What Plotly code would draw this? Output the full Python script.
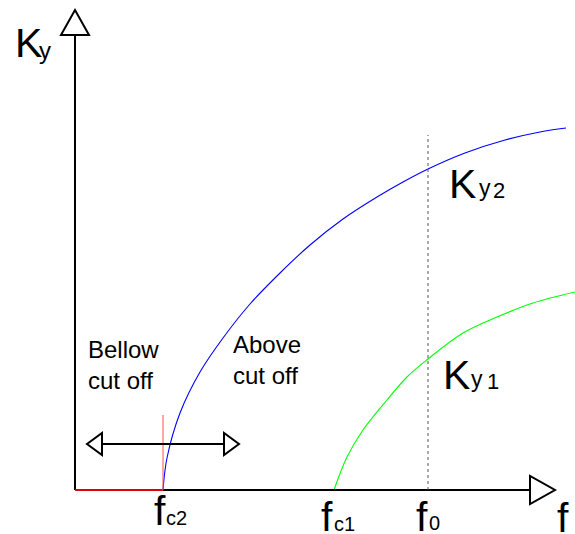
import plotly.graph_objects as go

# ---------------- data (f along x, Ky along y; units = arbitrary) ----------------
fc2 = 88      # cut-off frequency of mode 2
fc1 = 259     # cut-off frequency of mode 1
f0 = 353      # working frequency

ky2_f = [88, 92, 105, 125, 148, 175, 205, 235, 268, 302, 328, 353, 390, 430, 465, 491]
ky2_v = [0, 32, 77, 118, 152, 186, 217, 245, 271, 293, 308, 321, 337, 350, 358, 362]

ky1_f = [259, 272, 288, 312, 332, 353, 388, 422, 458, 500]
ky1_v = [0, 33, 60, 90, 113, 131, 157, 173, 187, 198]

W, H = 575, 534
X0, Y0 = 75, 490  # pixel location of the origin


def px(x):
    return x - X0


def py(y):
    return Y0 - y


fig = go.Figure()

fig.add_trace(go.Scatter(x=ky2_f, y=ky2_v, mode="lines",
                         line=dict(color="#0000ff", width=1.1, shape="spline", smoothing=1),
                         hoverinfo="skip", showlegend=False))
fig.add_trace(go.Scatter(x=ky1_f, y=ky1_v, mode="lines",
                         line=dict(color="#00ff00", width=1.1, shape="spline", smoothing=1),
                         hoverinfo="skip", showlegend=False))

shapes = []
blk = dict(color="black", width=2)
# y axis + arrow head
shapes.append(dict(type="line", x0=0, x1=0, y0=0, y1=py(35), line=blk))
shapes.append(dict(type="path", path=f"M -14 {py(35)} L 14 {py(35)} L 0 {py(10)} Z",
                   line=blk, fillcolor="white"))
# x axis + arrow head
shapes.append(dict(type="line", x0=0, x1=px(530), y0=0, y1=0, line=blk))
shapes.append(dict(type="path", path=f"M {px(530)} 14 L {px(530)} -14 L {px(555)} 0 Z",
                   line=blk, fillcolor="white"))
# red segment along axis and red vertical at fc2
shapes.append(dict(type="line", x0=0, x1=fc2, y0=0, y1=0, line=dict(color="#e00000", width=2)))
shapes.append(dict(type="line", x0=fc2, x1=fc2, y0=0, y1=py(415), line=dict(color="#ff5050", width=1)))
# dotted line at f0
shapes.append(dict(type="line", x0=f0, x1=f0, y0=0, y1=py(135), line=dict(color="#555555", width=1, dash="dot")))
# double arrow
ya = py(444)
shapes.append(dict(type="line", x0=px(102), x1=px(224), y0=ya, y1=ya, line=blk))
shapes.append(dict(type="path", path=f"M {px(102)} {ya+11} L {px(102)} {ya-11} L {px(87)} {ya} Z",
                   line=blk, fillcolor="white"))
shapes.append(dict(type="path", path=f"M {px(224)} {ya+11} L {px(224)} {ya-11} L {px(239)} {ya} Z",
                   line=blk, fillcolor="white"))

FONT = "Liberation Sans, Arial, sans-serif"
ann = []


def txt(s, x, y, size, xanchor="left", yanchor="middle"):
    ann.append(dict(text=s, x=px(x), y=py(y), xref="x", yref="y", showarrow=False,
                    xanchor=xanchor, yanchor=yanchor, align="left",
                    font=dict(family=FONT, size=size, color="black")))


# axis label K_y
txt("K", 13, 43, 41)
txt("y", 37, 50, 24)
# f_c2
txt("f", 152, 511, 41)
txt("c2", 164, 518, 20)
# f_c1
txt("f", 319, 517, 41)
txt("c1", 332, 524, 20)
# f_0
txt("f", 414, 517, 41)
txt("0", 427, 523, 20)
# f
txt("f", 555, 518, 41)
# K_y2
txt("K", 447, 184, 41)
txt("y", 477, 188, 23)
txt("2", 491, 190, 22)
# K_y1
txt("K", 441, 375, 41)
txt("y", 469, 379, 23)
txt("1", 485, 381, 22)
# region labels
txt("Bellow<br>cut off", 86, 334, 24, yanchor="top")
txt("Above<br>cut off", 231, 329, 24, yanchor="top")

fig.update_layout(
    width=W, height=H,
    margin=dict(l=0, r=0, t=0, b=0),
    paper_bgcolor="white", plot_bgcolor="white",
    xaxis=dict(range=[px(0), px(W)], visible=False, fixedrange=True),
    yaxis=dict(range=[py(H), py(0)], visible=False, fixedrange=True),
    shapes=shapes, annotations=ann, showlegend=False,
)

fig.write_html("out.html", config={"displayModeBar": False},
               post_script="document.body.style.margin='0';document.body.style.overflow='hidden';")
